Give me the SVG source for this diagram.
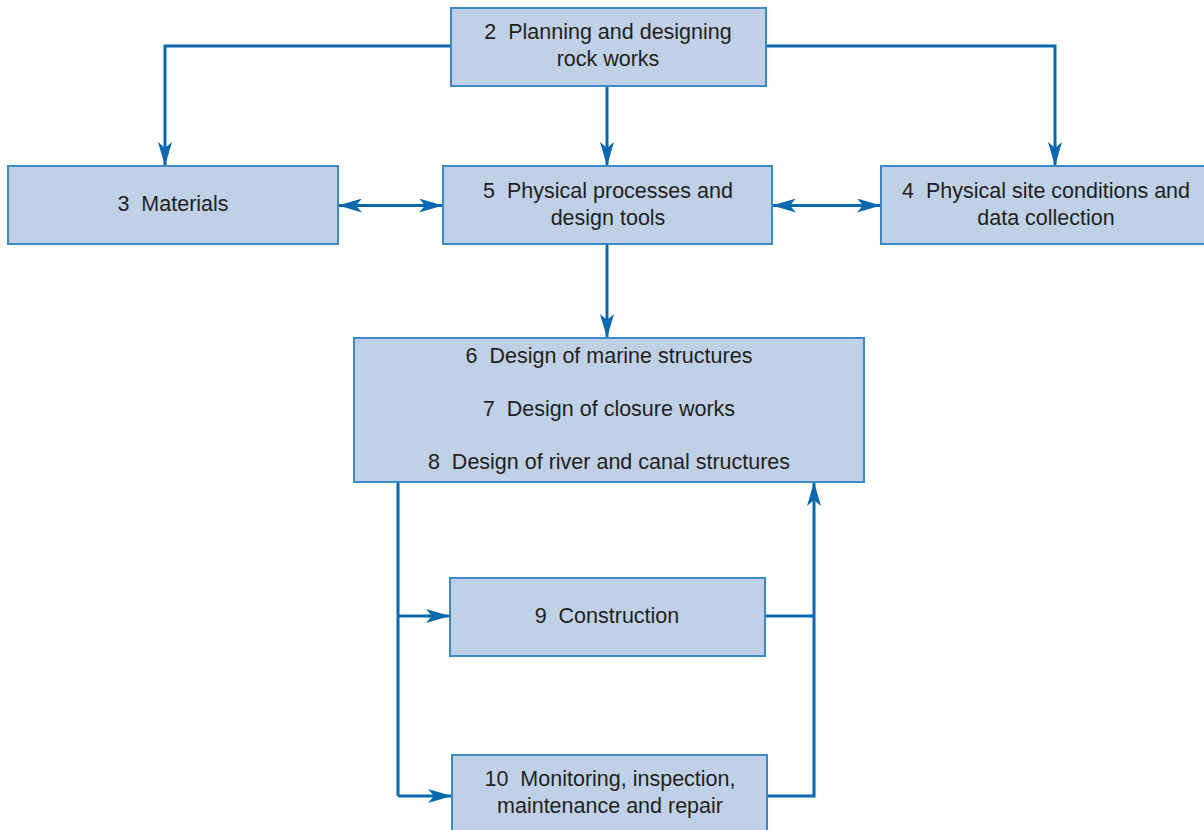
<svg xmlns="http://www.w3.org/2000/svg" width="1204" height="830" viewBox="0 0 1204 830">
<style>
.box{fill:#c0d1e7;stroke:#3d88c6;stroke-width:2}
.t{font-family:"Liberation Sans",Arial,sans-serif;font-size:21.5px;fill:#231f20;text-anchor:middle;white-space:pre}
.c{fill:none;stroke:#0a69ae;stroke-width:3}
</style>
<defs>
<marker id="ah" viewBox="0 0 24 14" refX="24" refY="7" markerWidth="24" markerHeight="14" markerUnits="userSpaceOnUse" orient="auto-start-reverse">
<path d="M0,0 L24,7 L0,14 L6,7 z" fill="#0a69ae"/>
</marker>
</defs>
<rect width="1204" height="830" fill="#ffffff"/>
<g id="connectors">
<path class="c" d="M451,46 H165 V166" marker-end="url(#ah)"/>
<path class="c" d="M766,46 H1055 V166" marker-end="url(#ah)"/>
<path class="c" d="M607,86 V166" marker-end="url(#ah)"/>
<path class="c" d="M338,205.5 H443" marker-start="url(#ah)" marker-end="url(#ah)"/>
<path class="c" d="M772,205.5 H881" marker-start="url(#ah)" marker-end="url(#ah)"/>
<path class="c" d="M607,244 V338" marker-end="url(#ah)"/>
<path class="c" d="M398,482 V796"/>
<path class="c" d="M398,616 H450" marker-end="url(#ah)"/>
<path class="c" d="M398,796 H452" marker-end="url(#ah)"/>
<path class="c" d="M765,616 H814"/>
<path class="c" d="M767,796 H814 V482" marker-end="url(#ah)"/>
</g>
<g id="node2">
<rect class="box" x="451" y="8" width="315" height="78"/>
<text class="t" x="608" y="39" xml:space="preserve">2  Planning and designing</text>
<text class="t" x="608" y="66">rock works</text>
</g>
<g id="node3">
<rect class="box" x="8" y="166" width="330" height="78"/>
<text class="t" x="173" y="211" xml:space="preserve">3  Materials</text>
</g>
<g id="node5">
<rect class="box" x="443" y="166" width="329" height="78"/>
<text class="t" x="608" y="198" xml:space="preserve">5  Physical processes and</text>
<text class="t" x="608" y="225">design tools</text>
</g>
<g id="node4">
<rect class="box" x="881" y="166" width="340" height="78"/>
<text class="t" x="1046" y="198" xml:space="preserve">4  Physical site conditions and</text>
<text class="t" x="1046" y="225">data collection</text>
</g>
<g id="node6">
<rect class="box" x="354" y="338" width="510" height="144"/>
<text class="t" x="609" y="363" xml:space="preserve">6  Design of marine structures</text>
<text class="t" x="609" y="416" xml:space="preserve">7  Design of closure works</text>
<text class="t" x="609" y="469" xml:space="preserve">8  Design of river and canal structures</text>
</g>
<g id="node9">
<rect class="box" x="450" y="578" width="315" height="78"/>
<text class="t" x="607" y="623" xml:space="preserve">9  Construction</text>
</g>
<g id="node10">
<rect class="box" x="452" y="755" width="315" height="90"/>
<text class="t" x="610" y="786" xml:space="preserve">10  Monitoring, inspection,</text>
<text class="t" x="610" y="813">maintenance and repair</text>
</g>
</svg>
